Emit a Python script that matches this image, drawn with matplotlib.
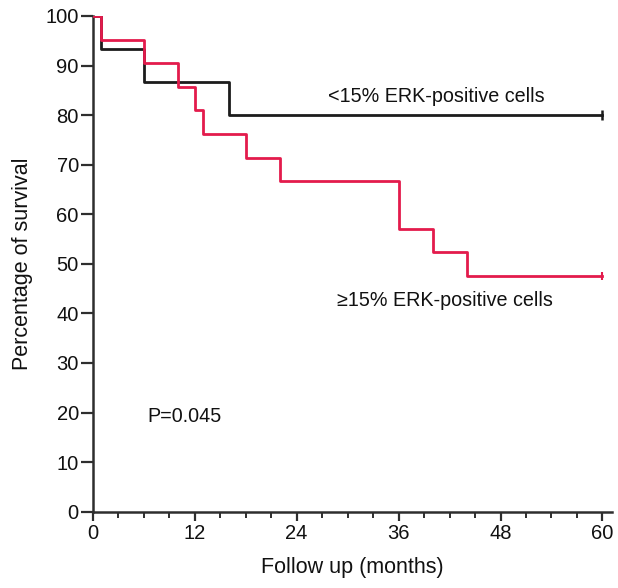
import matplotlib
matplotlib.use("Agg")
import matplotlib.pyplot as plt
from matplotlib.ticker import MultipleLocator

plt.rcParams['font.family'] = ['Liberation Sans', 'DejaVu Sans']

# Data (Kaplan-Meier step values)
low_times = [0, 1, 6, 16, 60]
low_surv = [100, 93.3, 86.7, 80.0, 80.0]
high_times = [0, 1, 6, 10, 12, 13, 18, 22, 36, 40, 44, 60]
high_surv = [100, 95.2, 90.5, 85.7, 81.0, 76.2, 71.4, 66.7, 57.1, 52.4, 47.6, 47.6]
x_ticks = [0, 12, 24, 36, 48, 60]
y_ticks = [0, 10, 20, 30, 40, 50, 60, 70, 80, 90, 100]
low_label = "<15% ERK-positive cells"
high_label = "\u226515% ERK-positive cells"
p_text = "P=0.045"

black = '#1c1c1c'
red = '#e31b4c'
axc = '#2e2e2e'

fig = plt.figure(figsize=(6.18, 5.88), dpi=100)
ax = fig.add_axes([0.150, 0.1298, 0.840, 0.8430])

ax.step(low_times, low_surv, where='post', color=black, lw=2.0, zorder=3)
ax.step(high_times, high_surv, where='post', color=red, lw=2.0, zorder=4)
ax.plot([low_times[-1]], [low_surv[-1]], marker='|', color=black, ms=7, mew=1.8, zorder=5)
ax.plot([high_times[-1]], [high_surv[-1]], marker='|', color=red, ms=6, mew=1.5, zorder=5)

ax.set_xlim(0, 61.1)
ax.set_ylim(0, 100)
ax.set_xticks(x_ticks)
ax.set_yticks(y_ticks)
ax.xaxis.set_minor_locator(MultipleLocator(3))

for s in ['top', 'right']:
    ax.spines[s].set_visible(False)
for s in ['left', 'bottom']:
    ax.spines[s].set_color(axc)
    ax.spines[s].set_linewidth(1.8)

ax.tick_params(axis='x', which='major', length=6.5, width=1.6, color=axc,
               labelsize=14.5, pad=2.5, labelcolor='#111111')
ax.tick_params(axis='x', which='minor', length=4, width=1.4, color=axc)
ax.tick_params(axis='y', which='major', length=8.5, width=1.6, color=axc,
               labelsize=14.5, pad=1.5, labelcolor='#111111')

ax.set_xlabel("Follow up (months)", fontsize=15.5, color='#111111', labelpad=10)
ax.set_ylabel("Percentage of survival", fontsize=15.5, color='#111111', labelpad=9)

ax.text(27.7, 83.7, low_label, fontsize=14.2, color='#111111', va='center', ha='left')
ax.text(28.8, 42.7, high_label, fontsize=14.2, color='#111111', va='center', ha='left')
ax.text(6.4, 19.3, p_text, fontsize=14.2, color='#111111', va='center', ha='left')

fig.savefig('out.png', dpi=100)
